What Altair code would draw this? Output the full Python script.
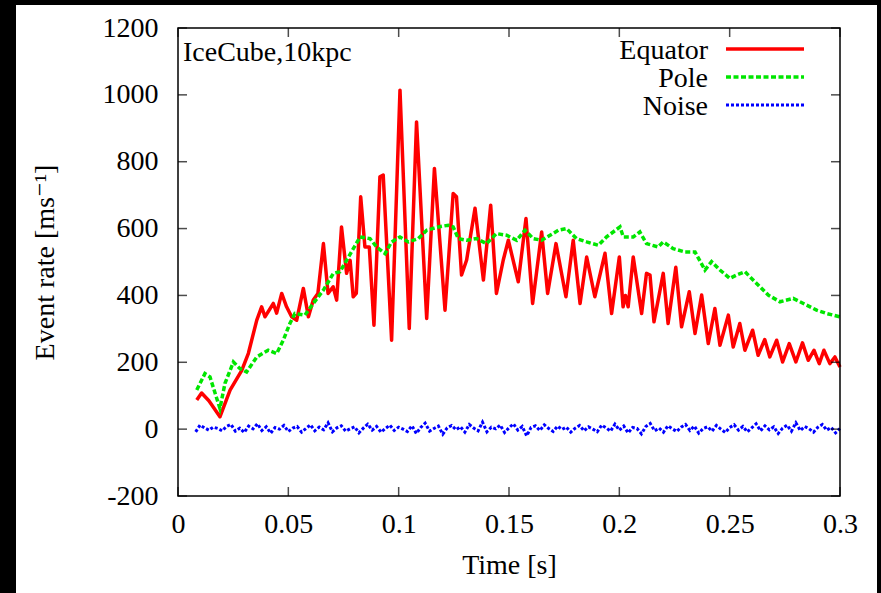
import altair as alt
import pandas as pd

# ---------------- data ----------------
eq_t = [0.0085, 0.0107, 0.0140, 0.0190, 0.0236, 0.0289, 0.0319, 0.0357, 0.0379, 0.0394,
        0.0432, 0.0447, 0.0470, 0.0492, 0.0515, 0.0538, 0.0568, 0.0591, 0.0613, 0.0634,
        0.0659, 0.0680, 0.0703, 0.0719, 0.0741, 0.0764, 0.0780, 0.0794, 0.0808, 0.0828,
        0.0847, 0.0867, 0.0888, 0.0915, 0.0930, 0.0968, 0.1006, 0.1048, 0.1081, 0.1127,
        0.1162, 0.1210, 0.1247, 0.1262, 0.1285, 0.1308, 0.1346, 0.1384, 0.1417, 0.1443,
        0.1474, 0.1497, 0.1542, 0.1577, 0.1607, 0.1648, 0.1675, 0.1713, 0.1758, 0.1791,
        0.1822, 0.1852, 0.1889, 0.1935, 0.1965, 0.2000, 0.2017, 0.2028, 0.2040, 0.2063,
        0.2101, 0.2123, 0.2139, 0.2157, 0.2199, 0.2221, 0.2256, 0.2282, 0.2317, 0.2343,
        0.2373, 0.2403, 0.2433, 0.2456, 0.2494, 0.2516, 0.2546, 0.2569, 0.2604, 0.2629,
        0.2659, 0.2682, 0.2713, 0.2740, 0.2770, 0.2800, 0.2830, 0.2856, 0.2882, 0.2906,
        0.2927, 0.2954, 0.2977, 0.3000]
eq_v = [87, 108, 85, 37, 117, 176, 227, 326, 366, 336,
        376, 347, 406, 366, 336, 326, 421, 336, 386, 406,
        555, 406, 426, 386, 605, 466, 505, 396, 406, 695,
        545, 545, 311, 755, 760, 266, 1014, 301, 919, 331,
        780, 356, 705, 695, 461, 506, 661, 446, 670, 406,
        506, 565, 441, 630, 376, 590, 406, 555, 396, 565,
        376, 515, 396, 526, 346, 515, 366, 400, 366, 515,
        346, 466, 461, 321, 466, 316, 484, 306, 411, 286,
        401, 256, 361, 251, 341, 246, 316, 236, 296, 221,
        268, 216, 266, 201, 256, 201, 258, 206, 236, 196,
        236, 196, 216, 186]

pole_t = [0.0085, 0.0122, 0.0145, 0.0190, 0.0213, 0.0251, 0.0281, 0.0311, 0.0357, 0.0409,
          0.0447, 0.0477, 0.0507, 0.0530, 0.0575, 0.0613, 0.0659, 0.0704, 0.0734, 0.0764,
          0.0825, 0.0870, 0.0900, 0.0938, 0.0968, 0.1006, 0.1044, 0.1089, 0.1127, 0.1180,
          0.1225, 0.1247, 0.1270, 0.1308, 0.1353, 0.1398, 0.1443, 0.1489, 0.1535, 0.1572,
          0.1610, 0.1648, 0.1686, 0.1724, 0.1761, 0.1806, 0.1852, 0.1905, 0.1942, 0.2003,
          0.2018, 0.2063, 0.2093, 0.2123, 0.2176, 0.2199, 0.2244, 0.2297, 0.2343, 0.2388,
          0.2418, 0.2456, 0.2501, 0.2531, 0.2569, 0.2622, 0.2675, 0.2728, 0.2788, 0.2849,
          0.2894, 0.2939, 0.3000]
pole_v = [117, 166, 156, 62, 137, 201, 181, 171, 216, 236,
          226, 266, 316, 346, 341, 376, 416, 466, 471, 505,
          575, 570, 545, 525, 560, 575, 560, 570, 595, 605,
          610, 605, 570, 565, 570, 555, 585, 580, 565, 595,
          570, 565, 580, 595, 600, 570, 560, 550, 575, 605,
          575, 575, 590, 555, 545, 560, 540, 530, 530, 476,
          501, 476, 451, 461, 471, 436, 401, 381, 391, 371,
          356, 346, 336]

noise_t = [0.008, 0.010, 0.012, 0.014, 0.016, 0.018, 0.020, 0.022, 0.024, 0.026,
           0.028, 0.030, 0.032, 0.034, 0.036, 0.038, 0.040, 0.042, 0.044, 0.046,
           0.048, 0.050, 0.052, 0.054, 0.056, 0.058, 0.060, 0.062, 0.064, 0.066,
           0.068, 0.070, 0.072, 0.074, 0.076, 0.078, 0.080, 0.082, 0.084, 0.086,
           0.088, 0.090, 0.092, 0.094, 0.096, 0.098, 0.100, 0.102, 0.104, 0.106,
           0.108, 0.110, 0.112, 0.114, 0.116, 0.118, 0.120, 0.122, 0.124, 0.126,
           0.128, 0.130, 0.132, 0.134, 0.136, 0.138, 0.140, 0.142, 0.144, 0.146,
           0.148, 0.150, 0.152, 0.154, 0.156, 0.158, 0.160, 0.162, 0.164, 0.166,
           0.168, 0.170, 0.172, 0.174, 0.176, 0.178, 0.180, 0.182, 0.184, 0.186,
           0.188, 0.190, 0.192, 0.194, 0.196, 0.198, 0.200, 0.202, 0.204, 0.206,
           0.208, 0.210, 0.212, 0.214, 0.216, 0.218, 0.220, 0.222, 0.224, 0.226,
           0.228, 0.230, 0.232, 0.234, 0.236, 0.238, 0.240, 0.242, 0.244, 0.246,
           0.248, 0.250, 0.252, 0.254, 0.256, 0.258, 0.260, 0.262, 0.264, 0.266,
           0.268, 0.270, 0.272, 0.274, 0.276, 0.278, 0.280, 0.282, 0.284, 0.286,
           0.288, 0.290, 0.292, 0.294, 0.296, 0.298, 0.300]
noise_v = [-8, 12, 4, -3, 6, 2, -5, 8, 14, -6, 3, -10, 9, 1, 16, -4, 7, -12, 5, 0,
           11, -7, 3, 8, -9, 2, 13, -5, 6, -2, 19, -8, 4, 10, -6, 1, 7, -11, 3, 15,
           -3, 8, -9, 2, 12, -4, 6, 0, -7, 10, -13, 5, 18, -6, 2, 9, -15, 4, 11, -2,
           7, -9, 14, 3, -5, 21, -8, 6, 1, 12, -10, 4, 16, -3, 8, -20, 5, 10, -4, 13,
           2, -7, 9, -1, 6, -9, 3, 11, -5, 7, 0, -8, 12, 4, -6, 15, -3, 9, -11, 5,
           2, -14, 8, 17, -5, 3, -9, 10, 1, -7, 6, 14, -4, 9, -12, 2, 7, -6, 11, 0,
           -10, 5, 13, -3, 8, -8, 4, 16, -5, 10, -2, 7, -13, 3, 12, -6, 19, -4, 8, 1,
           -9, 6, 14, -3, 5, -11, 2]

x_ticks = [0, 0.05, 0.1, 0.15, 0.2, 0.25, 0.3]
y_ticks = [-200, 0, 200, 400, 600, 800, 1000, 1200]
series_names = ["Equator", "Pole", "Noise"]
annotation = "IceCube,10kpc"

# ---------------- styling ----------------
W, H = 662, 468
SERIF = "'Liberation Serif', 'Times New Roman', Times, 'DejaVu Serif', serif"
FS = 28
RED, GREEN, BLUE = "#ff0000", "#00e600", "#0000ff"

xscale = alt.Scale(domain=[0, 0.3], nice=False, zero=False)
yscale = alt.Scale(domain=[-200, 1200], nice=False)

xax = alt.Axis(values=x_ticks, format="~g", labelFont=SERIF, labelFontSize=FS,
               labelColor="black", labelPadding=14, labelFlush=False, labelOverlap=False,
               ticks=False, domain=False, grid=False,
               title="Time [s]", titleFont=SERIF, titleFontSize=FS, titleFontWeight="normal",
               titleColor="black", titleBaseline="middle", titleY=69, zindex=1)
yax = alt.Axis(values=y_ticks, labelExpr="'' + datum.value", labelFont=SERIF, labelFontSize=FS,
               labelColor="black", labelPadding=20, labelFlush=False, labelOverlap=False,
               ticks=False, domain=False, grid=False,
               title="Event rate [ms⁻¹]", titleFont=SERIF, titleFontSize=FS,
               titleFontWeight="normal", titleColor="black", titleBaseline="middle",
               titleX=-133, titleY=234, zindex=1)

X = alt.X("t:Q", scale=xscale, axis=xax)
Y = alt.Y("v:Q", scale=yscale, axis=yax)

one = pd.DataFrame({"k": [0]})

bg = alt.Chart(one).mark_rect(color="white").encode(
    x=alt.value(-162), x2=alt.value(699), y=alt.value(-23), y2=alt.value(570))

eq_df = pd.DataFrame({"t": eq_t, "v": eq_v})
pole_df = pd.DataFrame({"t": pole_t, "v": pole_v})
noise_df = pd.DataFrame({"t": noise_t, "v": noise_v})

eq = alt.Chart(eq_df).mark_line(color=RED, strokeWidth=3.5, strokeJoin="round").encode(x=X, y=Y)
pole = alt.Chart(pole_df).mark_line(color=GREEN, strokeWidth=3.5, strokeDash=[5, 2.5]).encode(x=X, y=Y)
noise = alt.Chart(noise_df).mark_line(color=BLUE, strokeWidth=3, strokeDash=[3, 2]).encode(x=X, y=Y)

xt_df = pd.DataFrame({"t": x_ticks})
yt_df = pd.DataFrame({"v": y_ticks})
TK = 9
tick_b = alt.Chart(xt_df).mark_tick(orient="vertical", color="black", size=TK, thickness=1.5).encode(
    x=X, y=alt.value(H - TK / 2))
tick_t = alt.Chart(xt_df).mark_tick(orient="vertical", color="black", size=TK, thickness=1.5).encode(
    x=X, y=alt.value(TK / 2))
tick_l = alt.Chart(yt_df).mark_tick(orient="horizontal", color="black", size=TK, thickness=1.5).encode(
    y=Y, x=alt.value(TK / 2))
tick_r = alt.Chart(yt_df).mark_tick(orient="horizontal", color="black", size=TK, thickness=1.5).encode(
    y=Y, x=alt.value(W - TK / 2))

frame = alt.Chart(one).mark_rect(fillOpacity=0, stroke="black", strokeWidth=1.5).encode(
    x=alt.value(0), x2=alt.value(W), y=alt.value(0), y2=alt.value(H))

label = alt.Chart(one).mark_text(text=annotation, font=SERIF, fontSize=FS, color="black",
                                 align="left", baseline="middle").encode(
    x=alt.value(5), y=alt.value(25))

# legend (gnuplot style: label left of the line sample)
styles = [(RED, 3.5, [100, 0]), (GREEN, 3.5, [5, 2.5]), (BLUE, 3, [3, 2])]
rows_y = [21, 49, 77]
legend_layers = []
for name, (col, sw, dash), ry in zip(series_names, styles, rows_y):
    legend_layers.append(
        alt.Chart(one).mark_text(text=name, font=SERIF, fontSize=FS, color="black",
                                 align="right", baseline="middle").encode(
            x=alt.value(530), y=alt.value(ry + 2)))
    legend_layers.append(
        alt.Chart(one).mark_rule(color=col, strokeWidth=sw, strokeDash=dash).encode(
            x=alt.value(548), x2=alt.value(626), y=alt.value(ry)))

chart = alt.layer(bg, eq, pole, noise, tick_b, tick_t, tick_l, tick_r, frame, label,
                  *legend_layers).properties(
    width=W, height=H,
    autosize=alt.AutoSizeParams(type="none"),
    padding={"left": 178, "top": 28, "right": 41, "bottom": 97},
    background="black",
).configure_view(stroke=None)

chart.save("out.html", embed_options={"renderer": "svg", "actions": False})
